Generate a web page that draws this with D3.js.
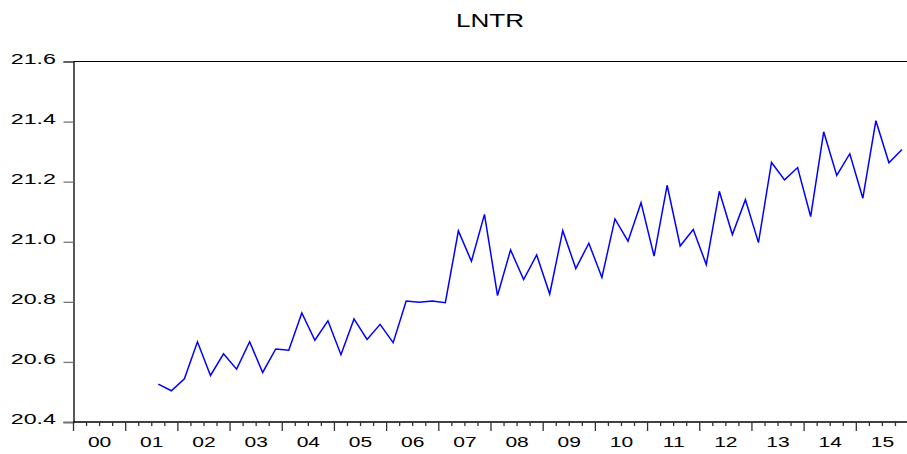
<!DOCTYPE html>
<html>
<head>
<meta charset="utf-8">
<script src="https://cdn.jsdelivr.net/npm/d3@7"></script>
<style>
  body { margin: 0; background: #fff; overflow: hidden; }
  svg { display: block; font-family: "Liberation Sans", Arial, sans-serif; }
</style>
</head>
<body>
<div id="chart"></div>
<script>
// quarterly series LNTR, 2001Q3 .. 2015Q4
var startYear = 2000
var firstObs = "2001Q3"
var lntr = [
  20.526, 20.504,
  20.544, 20.667, 20.555, 20.627,
  20.576, 20.667, 20.565, 20.643,
  20.639, 20.763, 20.672, 20.737,
  20.624, 20.743, 20.675, 20.725,
  20.664, 20.803, 20.799, 20.803,
  20.797, 21.036, 20.935, 21.091,
  20.821, 20.973, 20.874, 20.956,
  20.826, 21.037, 20.911, 20.995,
  20.881, 21.076, 21.002, 21.130,
  20.952, 21.188, 20.986, 21.041,
  20.924, 21.168, 21.024, 21.140,
  20.997, 21.264, 21.206, 21.247,
  21.084, 21.366, 21.221, 21.293,
  21.145, 21.403, 21.263, 21.307
]
var yearLabels = ["00","01","02","03","04","05","06","07","08","09","10","11","12","13","14","15"]
var yTicks = [20.4, 20.6, 20.8, 21.0, 21.2, 21.4, 21.6]
var title = "LNTR"

// plot area (note: "top" is reserved on window, so use other names)
var w = 907, h = 454
var plotL = 73.5, plotT = 61.5, plotB = 422, plotR = 908.5
var stretch = 1.5   // EViews text looks horizontally stretched

// index of first observation in quarters since 2000Q1
var q0 = (+firstObs.slice(0, 4) - startYear) * 4 + (+firstObs.slice(5) - 1)
var data = lntr.map(function (v, i) { return { q: q0 + i, v: v } })

var nQ = yearLabels.length * 4

var x = d3.scaleLinear().domain([0, nQ]).range([plotL, plotR])
var y = d3.scaleLinear().domain([20.4, 21.6]).range([plotB, plotT])

var svg = d3.select("#chart").append("svg")
  .attr("width", w)
  .attr("height", h)

// title
svg.append("text")
  .attr("transform", "translate(490,27) scale(1.45,1)")
  .attr("text-anchor", "middle")
  .style("font-size", "18px")
  .attr("fill", "#000")
  .text(title)

// frame: top line
svg.append("line")
  .attr("x1", plotL).attr("x2", w)
  .attr("y1", plotT).attr("y2", plotT)
  .attr("stroke", "#000").attr("stroke-width", 1.2)

// y axis
var yAxis = d3.axisLeft(y)
  .tickValues(yTicks)
  .tickFormat(d3.format(".1f"))
  .tickSize(10)

var gy = svg.append("g")
  .attr("transform", "translate(" + plotL + ",0)")
  .call(yAxis)
gy.select(".domain").attr("stroke", "#000").attr("stroke-width", 1.3)
gy.selectAll(".tick line").attr("stroke", "#777").attr("stroke-width", 1.3)
gy.selectAll(".tick text")
  .attr("x", null)
  .attr("dy", null)
  .attr("transform", "translate(-17.5,1.5) scale(" + stretch + ",1)")
  .style("font-size", "15.5px")
  .attr("fill", "#000")

// x axis: minor ticks each quarter, major at each year start
var gx = svg.append("g")
  .attr("transform", "translate(0," + plotB + ")")

gx.append("line")
  .attr("x1", plotL).attr("x2", w)
  .attr("y1", 0).attr("y2", 0)
  .attr("stroke", "#000").attr("stroke-width", 1.3)

gx.selectAll("line.qtick")
  .data(d3.range(0, nQ + 1))
  .enter().append("line")
  .attr("class", "qtick")
  .attr("x1", function (d) { return x(d) })
  .attr("x2", function (d) { return x(d) })
  .attr("y1", 0)
  .attr("y2", function (d) { return d % 4 == 0 ? 9 : 4 })
  .attr("stroke", "#333")
  .attr("stroke-width", 1.3)

gx.selectAll("text.year")
  .data(yearLabels)
  .enter().append("text")
  .attr("class", "year")
  .attr("transform", function (d, i) {
    return "translate(" + x(i * 4 + 2) + ",24.5) scale(1.45,1)"
  })
  .attr("text-anchor", "middle")
  .style("font-size", "14.5px")
  .attr("fill", "#000")
  .text(function (d) { return d })

// series line, points at quarter centres
var line = d3.line()
  .x(function (d) { return x(d.q + 0.5) })
  .y(function (d) { return y(d.v) })

svg.append("path")
  .datum(data)
  .attr("d", line)
  .attr("fill", "none")
  .attr("stroke", "#0000ff")
  .attr("stroke-width", 1.5)
</script>
</body>
</html>
